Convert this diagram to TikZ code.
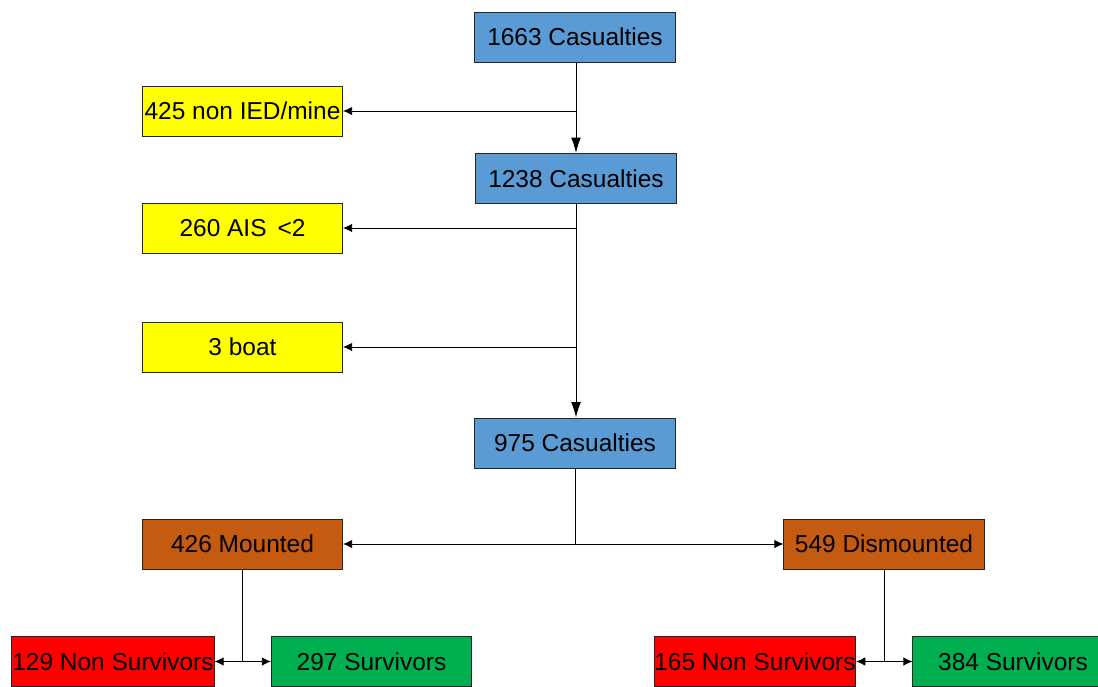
\documentclass[tikz,border=0pt]{standalone}
\usepackage{fontspec}
\setmainfont{Liberation Sans}
\usetikzlibrary{arrows, arrows.meta, positioning}
\usepackage{xcolor}
\definecolor{casblue}{HTML}{5B9BD5}
\definecolor{exyellow}{HTML}{FFFF00}
\definecolor{grpbrown}{HTML}{C55A11}
\definecolor{nsred}{HTML}{FF0000}
\definecolor{svgreen}{HTML}{00B050}

\begin{document}
\begin{tikzpicture}[
    x=0.025cm, y=-0.025cm,
    align=center,
    box/.style={draw=black!85, rectangle, minimum width=5cm, minimum height=1.25cm, inner sep=0pt, line width=0.7pt, font=\fontsize{17.4}{20}\selectfont},
    cas/.style={box, fill=casblue},
    excl/.style={box, fill=exyellow},
    grp/.style={box, fill=grpbrown},
    nonsurv/.style={box, fill=nsred},
    surv/.style={box, fill=svgreen},
    arrow/.style={-{Latex[length=6.5pt, width=6pt]}, line width=0.6pt},
    downarrow/.style={-{Latex[length=11pt, width=7pt]}, line width=0.7pt},
    line/.style={line width=0.6pt}
]
    \useasboundingbox (0,0) rectangle (1098,686);
    \clip (0,0) rectangle (1098,686);

    % Nodes
    \node[cas] (c1663) at (575,37) {1663 Casualties};
    \node[excl] (n425) at (242.5,111) {425 non IED/mine};
    \node[cas] (c1238) at (576,178.5) {1238 Casualties};
    \node[excl] (n260) at (242.5,228) {260 AIS \,<2};
    \node[excl] (n3) at (242.5,347) {3 boat};
    \node[cas] (c975) at (575,443) {975 Casualties};
    \node[grp] (m426) at (242.5,544) {426 Mounted};
    \node[grp] (d549) at (884,544) {549 Dismounted};
    \node[nonsurv, minimum width=5.05cm] (ns129) at (113,661.5) {129 Non Survivors};
    \node[surv] (s297) at (371.5,661.5) {297 Survivors};
    \node[nonsurv] (ns165) at (755,661.5) {165 Non Survivors};
    \node[surv] (s384) at (1013,661.5) {384 Survivors};

    % Connections
    \draw[downarrow] (c1663.south -| c1238) -- (c1238.north);
    \draw[arrow] (c1238 |- n425) -- (n425.east);
    \draw[downarrow] (c1238.south) -- (c1238.south |- c975.north);
    \draw[arrow] (c1238 |- n260) -- (n260.east);
    \draw[arrow] (c1238 |- n3) -- (n3.east);

    \coordinate (j975) at (c975.south |- m426);
    \draw[line] (c975.south) -- (j975);
    \draw[arrow] (j975) -- (m426.east);
    \draw[arrow] (j975) -- (d549.west);

    \coordinate (j426) at (m426.south |- ns129);
    \draw[line] (m426.south) -- (j426);
    \draw[arrow] (j426) -- (ns129.east);
    \draw[arrow] (j426) -- (s297.west);

    \coordinate (j549) at (d549.south |- ns165);
    \draw[line] (d549.south) -- (j549);
    \draw[arrow] (j549) -- (ns165.east);
    \draw[arrow] (j549) -- (s384.west);
\end{tikzpicture}
\end{document}
